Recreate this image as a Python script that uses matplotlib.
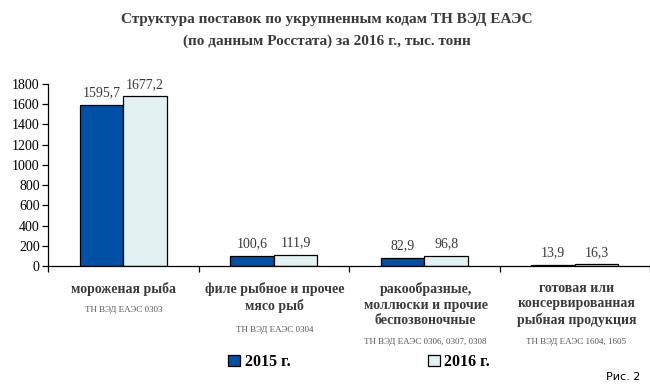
import numpy as np
import matplotlib.pyplot as plt

# data
categories = ['мороженая рыба',
              'филе рыбное и прочее\nмясо рыб',
              'ракообразные,\nмоллюски и прочие\nбеспозвоночные',
              'готовая или\nконсервированная\nрыбная продукция']
codes = ['ТН ВЭД ЕАЭС 0303', 'ТН ВЭД ЕАЭС 0304',
         'ТН ВЭД ЕАЭС 0306, 0307, 0308', 'ТН ВЭД ЕАЭС 1604, 1605']
v2015 = [1595.7, 100.6, 82.9, 13.9]
v2016 = [1677.2, 111.9, 96.8, 16.3]
series = ['2015 г.', '2016 г.']
yticks = [0, 200, 400, 600, 800, 1000, 1200, 1400, 1600, 1800]

W, H = 650, 388
serif = 'Liberation Serif'
txt_col = '#3a3a3a'

fig = plt.figure(figsize=(6.5, 3.88), dpi=100)
ax = fig.add_axes([48/W, 1-266/H, (650-48)/W, 182/H])

x = np.arange(len(categories))
bw = 0.29
b1 = ax.bar(x - bw/2, v2015, bw, color='#0050a5', edgecolor='black', linewidth=0.9)
b2 = ax.bar(x + bw/2, v2016, bw, color='#e2f2f2', edgecolor='black', linewidth=0.9)

for bars, vals in ((b1, v2015), (b2, v2016)):
    for r, v in zip(bars, vals):
        ax.annotate(('%.1f' % v).replace('.', ','),
                    (r.get_x() + r.get_width()/2, r.get_height()),
                    xytext=(0, 4), textcoords='offset points',
                    ha='center', va='bottom', fontsize=10,
                    family=serif, color=txt_col)

ax.set_xlim(-0.5, len(categories) - 0.5)
ax.set_ylim(0, 1800)
ax.set_yticks(yticks)
ax.set_yticklabels([str(t) for t in yticks], family=serif, fontsize=10,
                   color=txt_col)
ax.set_xticks(np.arange(len(categories) + 1) - 0.5)
ax.set_xticklabels([])
ax.tick_params(axis='both', direction='out', length=4, width=0.9, colors='black')
ax.tick_params(axis='y', pad=2)
for s in ('top', 'right'):
    ax.spines[s].set_visible(False)
for s in ('left', 'bottom'):
    ax.spines[s].set_linewidth(0.9)

# category labels under the axis
code_y = [310, 330, 342, 342]
for i, (c, code) in enumerate(zip(categories, codes)):
    xc = (48 + 151*(i + 0.5)) / W
    fig.text(xc, 1 - 282/H, c, ha='center', va='top', family=serif,
             fontweight='bold', fontsize=10, color=txt_col, linespacing=1.25)
    fig.text(xc, 1 - code_y[i]/H, code, ha='center', va='center',
             family=serif, fontsize=6.5, color='#555555')

# legend
fig.legend([b1, b2], series, loc='center', bbox_to_anchor=(359/W, 1 - 362/H),
           ncol=2, frameon=False, handlelength=0.75, handleheight=0.75,
           handletextpad=0.3, columnspacing=8.6,
           prop={'family': serif, 'weight': 'bold', 'size': 11.5})

fig.text(327/W, 1 - 20/H, 'Структура поставок по укрупненным кодам ТН ВЭД ЕАЭС',
         ha='center', va='center', family=serif, fontweight='bold',
         fontsize=11, color=txt_col)
fig.text(327/W, 1 - 41/H, '(по данным Росстата) за 2016 г., тыс. тонн',
         ha='center', va='center', family=serif, fontweight='bold',
         fontsize=11, color=txt_col)

fig.text(640/W, 1 - 377/H, 'Рис. 2', ha='right', va='center',
         family='DejaVu Sans', fontsize=8, color='black')

fig.savefig('out.png', dpi=100)
